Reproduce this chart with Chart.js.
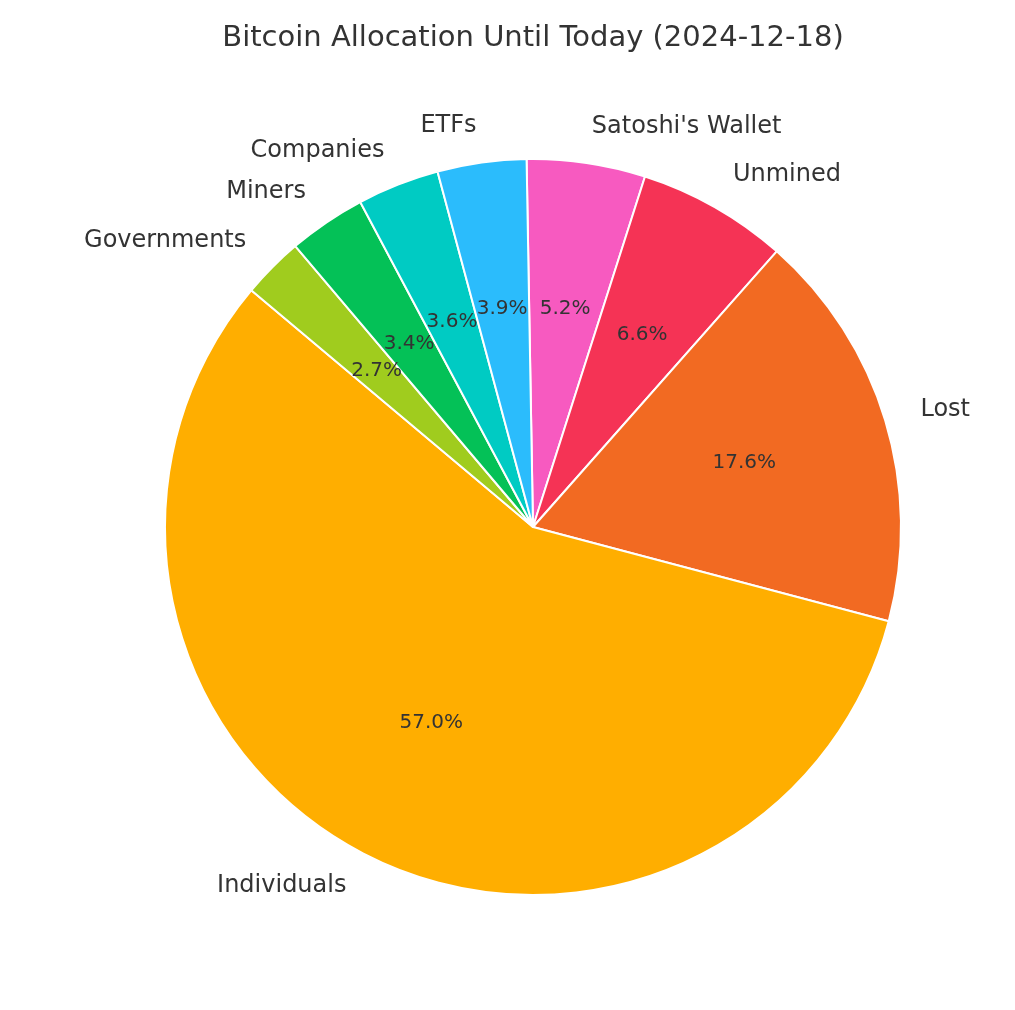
<!DOCTYPE html>
<html>
<head>
<meta charset="utf-8">
<script src="https://cdn.jsdelivr.net/npm/chart.js@4"></script>
<style>
  body { margin: 0; background: #fff; }
  canvas { display: block; }
</style>
</head>
<body>
<canvas id="pieChart" width="1015" height="1010"></canvas>
<script>
// Data
const categories = ["Satoshi's Wallet", 'Unmined', 'Lost', 'Individuals', 'Governments', 'Miners', 'Companies', 'ETFs'];
const shares = [5.2, 6.6, 17.6, 57.0, 2.7, 3.4, 3.6, 3.9];
const colors = ['#f75ac0', '#f53355', '#f26a22', '#ffae00', '#a0cc1e', '#04c157', '#00cbc3', '#2bbcfc'];
const titleText = 'Bitcoin Allocation Until Today (2024-12-18)';

const font = '"DejaVu Sans", sans-serif';

// Draw title, outside labels and percentages like matplotlib
const pieLabels = {
    id: 'pieLabels',
    afterDraw(chart) {
        const ctx = chart.ctx;
        ctx.save();
        ctx.fillStyle = '#333333';
        ctx.textAlign = 'center';
        ctx.textBaseline = 'middle';
        ctx.font = '29px ' + font;
        ctx.fillText(titleText, 533, 38);

        chart.getDatasetMeta(0).data.forEach((arc, i) => {
            const p = arc.getProps(['x', 'y', 'startAngle', 'endAngle', 'outerRadius'], true);
            const mid = (p.startAngle + p.endAngle) / 2;
            const cx = Math.cos(mid), cy = Math.sin(mid);

            // category label
            ctx.font = '24px ' + font;
            ctx.textAlign = cx >= 0 ? 'left' : 'right';
            ctx.fillText(categories[i], p.x + cx * p.outerRadius * 1.1, p.y + cy * p.outerRadius * 1.1);

            // percentage
            ctx.font = '20px ' + font;
            ctx.textAlign = 'center';
            ctx.fillText(shares[i].toFixed(1) + '%', p.x + cx * p.outerRadius * 0.6, p.y + cy * p.outerRadius * 0.6);
        });
        ctx.restore();
    }
};

new Chart(document.getElementById('pieChart').getContext('2d'), {
    type: 'pie',
    data: {
        labels: categories,
        datasets: [{
            data: shares,
            backgroundColor: colors,
            borderColor: '#ffffff',
            borderWidth: 2
        }]
    },
    options: {
        responsive: false,
        animation: false,
        rotation: -1,
        layout: {
            padding: { left: 164, right: 113, top: 158, bottom: 114 }
        },
        plugins: {
            legend: { display: false },
            tooltip: { enabled: false }
        }
    },
    plugins: [pieLabels]
});
</script>
</body>
</html>
